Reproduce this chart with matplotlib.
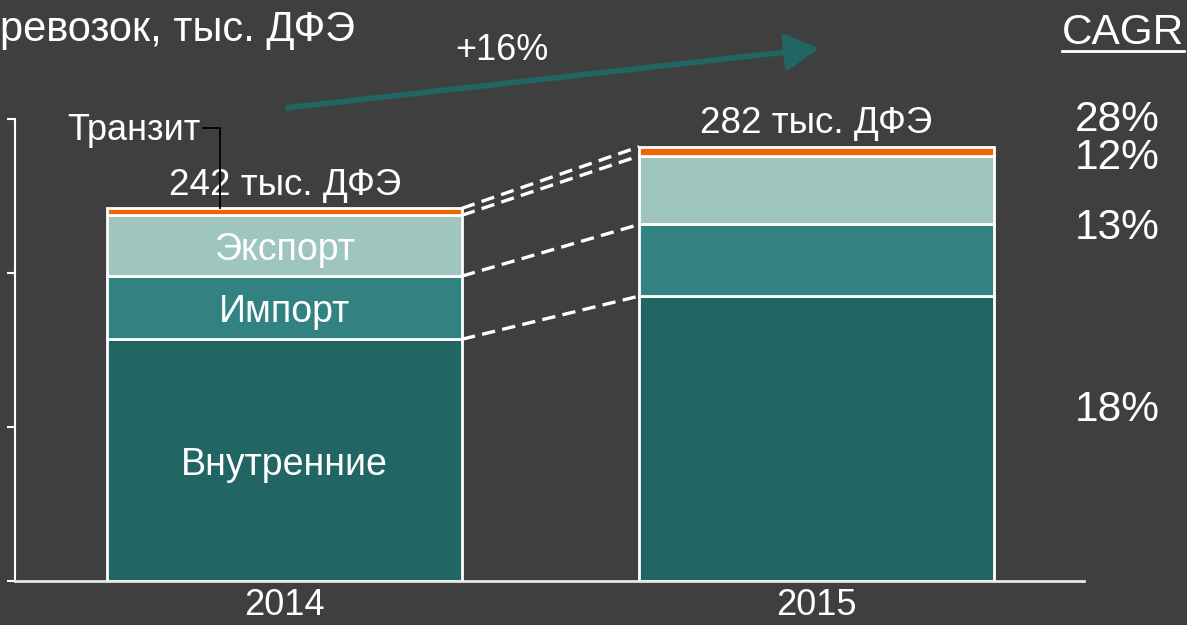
import matplotlib.pyplot as plt
from matplotlib.lines import Line2D
import numpy as np

plt.rcParams['font.family'] = ['Liberation Sans', 'DejaVu Sans']

# data, thousand TEU
years = ['2014', '2015']
segments = ['Внутренние', 'Импорт', 'Экспорт', 'Транзит']
vnutr = [157, 185]
imp = [41, 46.5]
exp_ = [39.5, 44.5]
tranzit = [4.5, 6]
totals = ['242 тыс. ДФЭ', '282 тыс. ДФЭ']
cagr = ['18%', '13%', '12%', '28%']

bg = '#3f3f3f'
colors = ['#216663', '#338282', '#9fc6be', '#f26600']

fig = plt.figure(figsize=(11.87, 6.25), dpi=100, facecolor=bg)
ax = fig.add_axes([15 / 1187, 44 / 625, 1069 / 1187, 462 / 625])
ax.set_facecolor(bg)

x = np.arange(len(years))
w = 0.667
stack = np.array([vnutr, imp, exp_, tranzit], dtype=float)
bottoms = np.vstack([np.zeros(2), np.cumsum(stack, axis=0)[:-1]])
for i in range(len(segments)):
    ax.bar(x, stack[i], w, bottom=bottoms[i], color=colors[i],
           edgecolor='white', linewidth=2, zorder=3)

# labels inside 2014 bar
for i in range(3):
    ax.text(x[0], bottoms[i][0] + stack[i][0] / 2 - 3, segments[i], color='white',
            fontsize=27, ha='center', va='center', zorder=4)

# dashed connectors
tops = np.cumsum(stack, axis=0)
for i in range(len(segments)):
    ax.plot([x[0] + w / 2, x[1] - w / 2], [tops[i][0], tops[i][1]], color='white',
            lw=2.4, ls=(0, (4, 2.2)), zorder=2)

# totals
for i in range(2):
    ax.text(x[i], tops[-1][i] + 15, totals[i], color='white', fontsize=26.5,
            ha='center', va='center', zorder=4)

# transit callout
ty = 300 - (128 - 119) / 1.54
ax.plot([-0.153, -0.121, -0.121], [ty, ty, tops[-1][0]],
        color='black', lw=1.3, zorder=4, clip_on=False)
ax.text(-0.159, ty - 1.3, segments[3], color='white', fontsize=26,
        ha='right', va='center')

ax.set_xlim(-0.507, 1.503)
ax.set_ylim(0, 300)
ax.set_yticks([0, 100, 200, 300])
ax.set_yticklabels([])
ax.set_xticks(x)
ax.set_xticklabels(years, color='white', fontsize=26)
ax.tick_params(axis='x', length=0, pad=5)
ax.tick_params(axis='y', colors='white', length=6, width=1.5, direction='out')
for s in ['top', 'right']:
    ax.spines[s].set_visible(False)
ax.spines['left'].set_color('white')
ax.spines['left'].set_linewidth(1.5)
ax.spines['bottom'].set_color('#e6e6e6')
ax.spines['bottom'].set_linewidth(2)

# title (cut off at the left edge in the source)
fig.text(0.0, 1 - 30 / 625, 'ревозок, тыс. ДФЭ', color='white', fontsize=30,
         ha='left', va='center')

# growth arrow
ax.annotate('', xy=(822 / 1187, 1 - 48 / 625), xytext=(285 / 1187, 1 - 108 / 625),
            xycoords='figure fraction', textcoords='figure fraction',
            arrowprops=dict(arrowstyle='-|>,head_length=1.0,head_width=0.55',
                            mutation_scale=20, color='#216663', lw=4))
fig.text(502 / 1187, 1 - 50 / 625, '+16%', color='white', fontsize=26,
         ha='center', va='center')

# CAGR column
fig.text(1184 / 1187, 1 - 33 / 625, 'CAGR', color='white', fontsize=30.5,
         ha='right', va='center')
fig.add_artist(Line2D([1062 / 1187, 1184 / 1187], [1 - 51 / 625, 1 - 51 / 625],
                      color='white', lw=2))
cagr_y = [410, 228, 158, 120]
for lab, yy in zip(cagr, cagr_y):
    fig.text(1160 / 1187, 1 - yy / 625, lab, color='white', fontsize=30.5,
             ha='right', va='center')

fig.savefig('out.png', dpi=100, facecolor=bg)
